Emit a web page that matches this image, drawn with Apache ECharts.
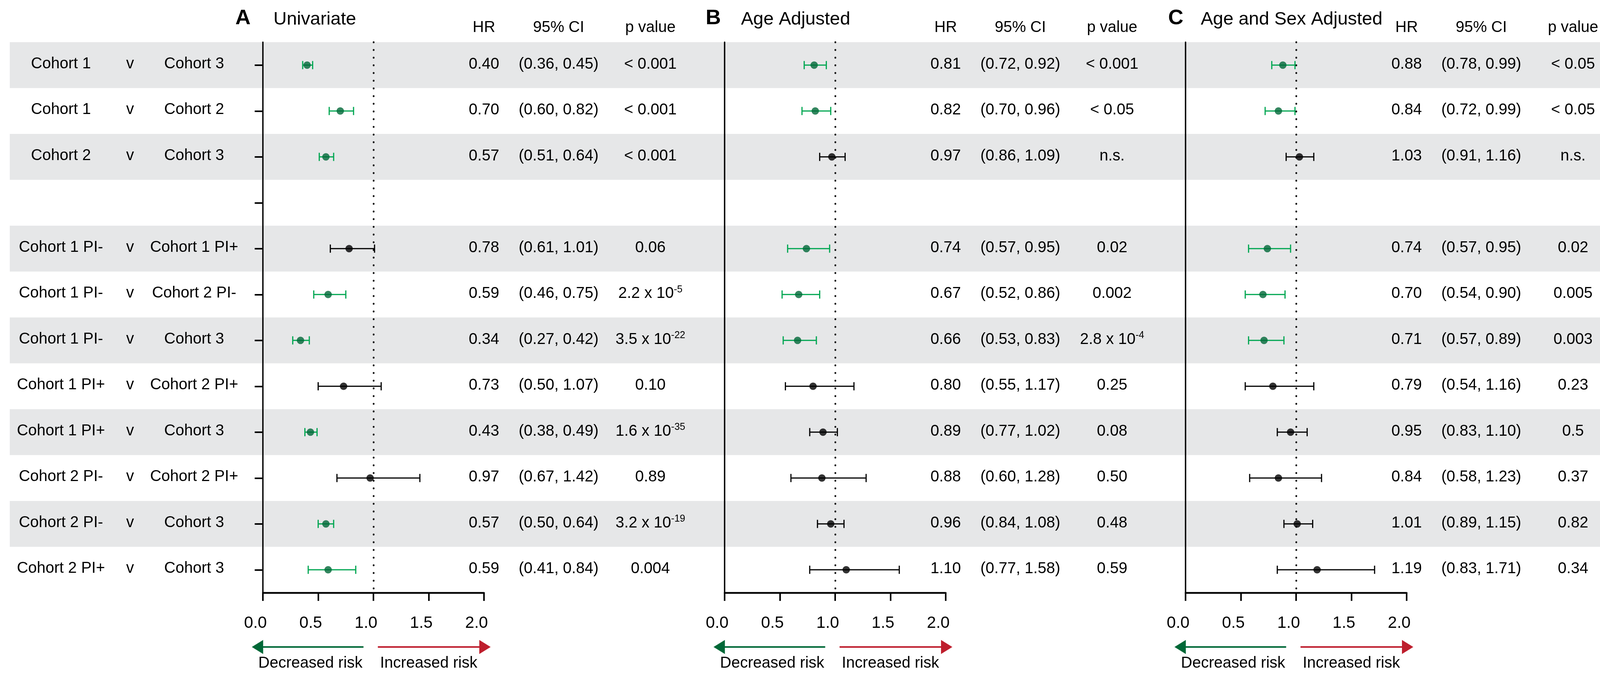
<!DOCTYPE html>
<html><head><meta charset="utf-8">
<script src="https://cdn.jsdelivr.net/npm/echarts@6/dist/echarts.min.js"></script>
<style>html,body{margin:0;padding:0;background:#fff}#c{width:4284px;height:1739px}</style>
</head><body><div id="c"></div>
<script>
// ---------------- data ----------------
const rowLeft  = ['Cohort 1','Cohort 1','Cohort 2','','Cohort 1 PI-','Cohort 1 PI-','Cohort 1 PI-','Cohort 1 PI+','Cohort 1 PI+','Cohort 2 PI-','Cohort 2 PI-','Cohort 2 PI+'];
const rowRight = ['Cohort 3','Cohort 2','Cohort 3','','Cohort 1 PI+','Cohort 2 PI-','Cohort 3','Cohort 2 PI+','Cohort 3','Cohort 2 PI+','Cohort 3','Cohort 3'];
const categories = rowLeft.map((l, i) => l ? l + ' v ' + rowRight[i] : ' ');
const panelLetters = ['A', 'B', 'C'];
const panelTitles = ['Univariate', 'Age Adjusted', 'Age and Sex Adjusted'];
const columnHeaders = ['HR', '95% CI', 'p value'];
const xTickValues = [0, 0.5, 1.0, 1.5, 2.0];
const arrowLabels = ['Decreased risk', 'Increased risk'];

const hrA = [0.40, 0.70, 0.57, null, 0.78, 0.59, 0.34, 0.73, 0.43, 0.97, 0.57, 0.59];
const loA = [0.36, 0.60, 0.51, null, 0.61, 0.46, 0.27, 0.50, 0.38, 0.67, 0.50, 0.41];
const hiA = [0.45, 0.82, 0.64, null, 1.01, 0.75, 0.42, 1.07, 0.49, 1.42, 0.64, 0.84];
const pA  = ['< 0.001', '< 0.001', '< 0.001', '', '0.06', '2.2 x 10^-5', '3.5 x 10^-22', '0.10', '1.6 x 10^-35', '0.89', '3.2 x 10^-19', '0.004'];

const hrB = [0.81, 0.82, 0.97, null, 0.74, 0.67, 0.66, 0.80, 0.89, 0.88, 0.96, 1.10];
const loB = [0.72, 0.70, 0.86, null, 0.57, 0.52, 0.53, 0.55, 0.77, 0.60, 0.84, 0.77];
const hiB = [0.92, 0.96, 1.09, null, 0.95, 0.86, 0.83, 1.17, 1.02, 1.28, 1.08, 1.58];
const pB  = ['< 0.001', '< 0.05', 'n.s.', '', '0.02', '0.002', '2.8 x 10^-4', '0.25', '0.08', '0.50', '0.48', '0.59'];

const hrC = [0.88, 0.84, 1.03, null, 0.74, 0.70, 0.71, 0.79, 0.95, 0.84, 1.01, 1.19];
const loC = [0.78, 0.72, 0.91, null, 0.57, 0.54, 0.57, 0.54, 0.83, 0.58, 0.89, 0.83];
const hiC = [0.99, 0.99, 1.16, null, 0.95, 0.90, 0.89, 1.16, 1.10, 1.23, 1.15, 1.71];
const pC  = ['< 0.05', '< 0.05', 'n.s.', '', '0.02', '0.005', '0.003', '0.23', '0.5', '0.37', '0.82', '0.34'];

const panels = [
  {hr: hrA, lo: loA, hi: hiA, p: pA},
  {hr: hrB, lo: loB, hi: hiB, p: pB},
  {hr: hrC, lo: loC, hi: hiC, p: pC}
];

// ---------------- style / layout ----------------
const FONT = "'Liberation Sans', Arial, Helvetica, sans-serif";
const GREEN_DARK = '#006837';
const GREEN_CI = '#00A651';
const RED = '#BE1E2D';
const BAND = '#E6E7E8';
const gridLefts = [673, 1855, 3035];
const gridW = 566, gridTop = 108, gridH = 1410;
const letterOff = [-51, -29, -25];
const titleOff = [27, 42, 39];
const colOff = [566, 757, 992];

const chart = echarts.init(document.getElementById('c'), null, {renderer: 'canvas'});

const grids = [], xAxes = [], yAxes = [], series = [];
panels.forEach((pn, k) => {
  grids.push({left: gridLefts[k], top: gridTop, width: gridW, height: gridH, containLabel: false});
  xAxes.push({
    type: 'value', gridIndex: k, min: 0, max: 2, interval: 0.5,
    splitLine: {show: false},
    axisLine: {show: true, lineStyle: {color: '#000', width: 4.5}},
    axisTick: {show: true, length: 21, lineStyle: {color: '#000', width: 4}},
    axisLabel: {
      show: true, color: '#000', fontSize: 42, fontFamily: FONT, margin: 57,
      padding: [0, 38, 0, 0],
      formatter: v => xTickValues.includes(v) ? v.toFixed(1) : ''
    }
  });
  yAxes.push({
    type: 'category', gridIndex: k, data: categories, inverse: true,
    axisLine: {show: true, lineStyle: {color: '#000', width: 3.5}},
    axisTick: {show: k === 0, alignWithLabel: true, length: 21, lineStyle: {color: '#000', width: 4}},
    splitLine: {show: false},
    axisLabel: {
      show: k === 0, margin: 59, fontFamily: FONT, fontSize: 40, color: '#000',
      formatter: (v, i) => rowLeft[i] ? '{a|' + rowLeft[i] + '}{v|v}{b|' + rowRight[i] + '}' : '',
      rich: {
        a: {width: 260, align: 'center', fontSize: 40, fontFamily: FONT, color: '#000', padding: [0, 0, 6, 0]},
        v: {width: 94, align: 'center', fontSize: 40, fontFamily: FONT, color: '#000', padding: [0, 0, 6, 0]},
        b: {width: 234, align: 'center', fontSize: 40, fontFamily: FONT, color: '#000', padding: [0, 0, 6, 0]}
      }
    }
  });
  const ciData = [], ptData = [];
  pn.hr.forEach((h, i) => {
    if (h == null) return;
    ciData.push([pn.lo[i], pn.hi[i], i]);
    ptData.push({value: [h, i], itemStyle: {color: pn.hi[i] < 1 ? GREEN_DARK : '#000'}});
  });
  series.push({
    type: 'custom', xAxisIndex: k, yAxisIndex: k, data: ciData, z: 3,
    encode: {x: [0, 1], y: 2},
    renderItem: (params, api) => {
      const y = api.value(2);
      const a = api.coord([api.value(0), y]);
      const b = api.coord([api.value(1), y]);
      const col = api.value(1) < 1 ? GREEN_CI : '#000';
      const h = 10.5;
      const st = {stroke: col, lineWidth: 3};
      return {type: 'group', children: [
        {type: 'line', shape: {x1: a[0], y1: a[1], x2: b[0], y2: b[1]}, style: st},
        {type: 'line', shape: {x1: a[0], y1: a[1] - h, x2: a[0], y2: a[1] + h}, style: st},
        {type: 'line', shape: {x1: b[0], y1: b[1] - h, x2: b[0], y2: b[1] + h}, style: st}
      ]};
    }
  });
  series.push({
    type: 'scatter', xAxisIndex: k, yAxisIndex: k, data: ptData, symbol: 'circle', symbolSize: 19, z: 4,
    markLine: {
      silent: true, symbol: 'none', label: {show: false},
      lineStyle: {color: '#000', width: 4.5, type: [0.5, 19.2], cap: 'round'},
      data: [{xAxis: 1}]
    }
  });
});

chart.setOption({
  animation: false,
  backgroundColor: '#fff',
  textStyle: {fontFamily: FONT},
  grid: grids, xAxis: xAxes, yAxis: yAxes, series: series
});

// ---------------- overlays placed through the axes ----------------
function px(k, x, row) { return chart.convertToPixel({gridIndex: k}, [x, row]); }
const r0 = px(0, 0, 0), r1 = px(0, 0, 1);
const rowH = r1[1] - r0[1];
const plotTop = r0[1] - rowH / 2;
const g = [];
categories.forEach((c, i) => {
  if (i % 2 !== 0) return;
  const yc = px(0, 0, i)[1];
  g.push({type: 'rect', z: -100, silent: true, shape: {x: 25, y: yc - rowH / 2, width: 4235, height: rowH}, style: {fill: BAND}});
});
function richP(s) {
  const m = s.split('^');
  return m.length > 1 ? m[0] + '{sup|' + m[1] + '}' : s;
}
function txt(x, y, text, size, extra) {
  return {type: 'text', z: 100, silent: true, x: x, y: y,
    style: Object.assign({text: text, fill: '#000', fontSize: size, fontFamily: FONT, align: 'center', verticalAlign: 'middle'}, extra || {})};
}
panels.forEach((pn, k) => {
  const ax0 = px(k, 0, 0)[0];
  g.push(txt(ax0 + letterOff[k], plotTop - 61, panelLetters[k], 54, {fontWeight: 'bold'}));
  g.push(txt(ax0 + titleOff[k], plotTop - 58, panelTitles[k], 47, {align: 'left'}));
  columnHeaders.forEach((hname, j) => g.push(txt(ax0 + colOff[j], plotTop - 37, hname, 40)));
  pn.hr.forEach((h, i) => {
    if (h == null) return;
    const yc = px(k, 0, i)[1] - 2;
    g.push(txt(ax0 + colOff[0], yc, h.toFixed(2), 40));
    g.push(txt(ax0 + colOff[1], yc, '(' + pn.lo[i].toFixed(2) + ', ' + pn.hi[i].toFixed(2) + ')', 40));
    g.push({type: 'text', z: 100, silent: true, x: ax0 + colOff[2], y: yc,
      style: {text: richP(pn.p[i]), fill: '#000', fontSize: 40, fontFamily: FONT, align: 'center', verticalAlign: 'middle', lineHeight: 46,
        rich: {sup: {fontSize: 25, fontFamily: FONT, fill: '#000', verticalAlign: 'top', lineHeight: 26}}}});
  });
  const ay = plotTop + gridH + 139;
  const gTip = px(k, -0.1, 0)[0], gEnd = px(k, 0.91, 0)[0];
  const rStart = px(k, 1.04, 0)[0], rTip = px(k, 2.06, 0)[0];
  const hl = 29, hh = 18;
  g.push({type: 'line', z: 100, silent: true, shape: {x1: gTip + hl - 2, y1: ay, x2: gEnd, y2: ay}, style: {stroke: GREEN_DARK, lineWidth: 4}});
  g.push({type: 'polygon', z: 100, silent: true, shape: {points: [[gTip, ay], [gTip + hl, ay - hh], [gTip + hl, ay + hh]]}, style: {fill: GREEN_DARK}});
  g.push({type: 'line', z: 100, silent: true, shape: {x1: rStart, y1: ay, x2: rTip - hl + 2, y2: ay}, style: {stroke: RED, lineWidth: 4}});
  g.push({type: 'polygon', z: 100, silent: true, shape: {points: [[rTip, ay], [rTip - hl, ay - hh], [rTip - hl, ay + hh]]}, style: {fill: RED}});
  g.push(txt(px(k, 0.43, 0)[0], ay + 42, arrowLabels[0], 40));
  g.push(txt(px(k, 1.50, 0)[0], ay + 42, arrowLabels[1], 40));
});
chart.setOption({graphic: {elements: g}});
</script>
</body></html>
